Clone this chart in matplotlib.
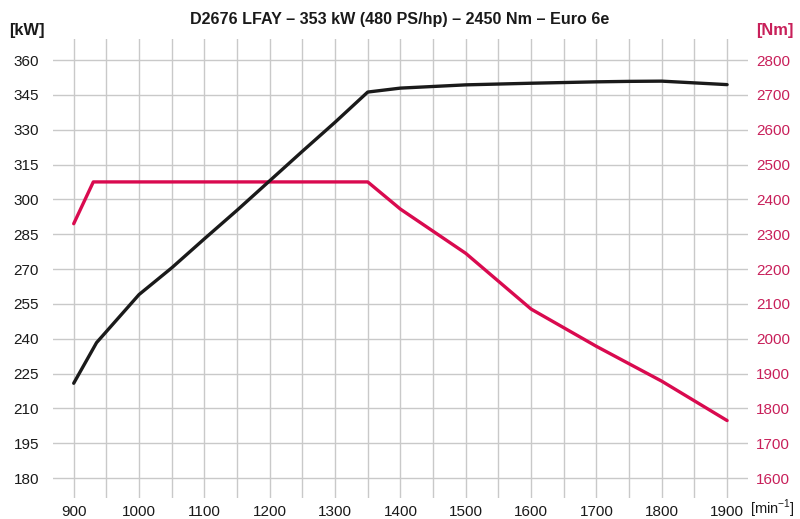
import matplotlib
matplotlib.use("Agg")
import matplotlib.pyplot as plt
from matplotlib.ticker import MultipleLocator

plt.rcParams['font.family'] = ['Liberation Sans', 'DejaVu Sans']

title = "D2676 LFAY \u2013 353 kW (480 PS/hp) \u2013 2450 Nm \u2013 Euro 6e"

power_rpm = [900, 935, 1000, 1050, 1100, 1150, 1200, 1250, 1300, 1350, 1400, 1500, 1600, 1700, 1750, 1800, 1900]
power_kw = [220.8, 238.3, 259, 270.5, 283, 295.3, 308, 320.7, 333.2, 346.2, 347.9, 349.3, 350.0, 350.6, 350.8, 350.9, 349.4]

torque_rpm = [900, 930, 1350, 1400, 1500, 1600, 1700, 1800, 1900]
torque_nm = [2330, 2450, 2450, 2372, 2245, 2085, 1978, 1878, 1765]

x_ticks = list(range(900, 2000, 100))
kw_ticks = list(range(180, 361, 15))
nm_ticks = list(range(1600, 2801, 100))

RED = '#d90a4f'
RED_TXT = '#c8205a'
GRID = '#c9c9c9'

fig = plt.figure(figsize=(8.0, 5.19), dpi=100)
ax = fig.add_axes([0.066, 0.0405, 0.869, 0.8845])  # Nm axis (primary, ticks on right)
ax2 = ax.twinx()  # kW axis (ticks on left)

ax.set_xlim(868, 1932)
ax.set_ylim(1542.7, 2860.5)
ax2.set_ylim(171.4, 369.08)

ax.set_xticks(x_ticks)
ax.xaxis.set_minor_locator(MultipleLocator(50))
ax.set_yticks(nm_ticks)
ax2.set_yticks(kw_ticks)

ax.grid(True, which='both', axis='x', color=GRID, linewidth=1.0)
ax.grid(True, which='major', axis='y', color=GRID, linewidth=1.0)
ax.set_axisbelow(True)

for a in (ax, ax2):
    for s in a.spines.values():
        s.set_visible(False)

ax.yaxis.tick_right()
ax2.yaxis.tick_left()
ax.tick_params(axis='x', which='both', length=0, pad=5, labelsize=11, labelcolor='#1a1a1a')
ax.tick_params(axis='y', length=0, pad=6, labelsize=11, labelcolor=RED_TXT)
ax2.tick_params(axis='y', length=0, pad=10, labelsize=11, labelcolor='#1a1a1a')

ax.plot(torque_rpm, torque_nm, color=RED, linewidth=2.4, solid_capstyle='round', solid_joinstyle='round')
ax2.plot(power_rpm, power_kw, color='#1a1a1a', linewidth=2.4, solid_capstyle='round', solid_joinstyle='round')

fig.text(0.5, 0.963, title, ha='center', va='center', fontsize=11.6, fontweight='bold', color='#1a1a1a')
fig.text(0.012, 0.942, "[kW]", ha='left', va='center', fontsize=11.8, fontweight='bold', color='#1a1a1a')
fig.text(0.992, 0.942, "[Nm]", ha='right', va='center', fontsize=11.8, fontweight='bold', color=RED_TXT)
fig.text(0.994, 0.02, "[min$^{\\mathregular{-1}}$]", ha='right', va='center', fontsize=10.5, color='#1a1a1a')

fig.savefig("out.png", dpi=100)
